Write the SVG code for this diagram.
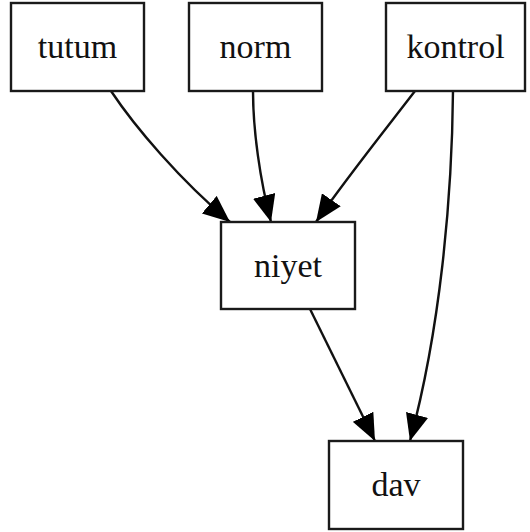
<svg xmlns="http://www.w3.org/2000/svg" width="530" height="532" viewBox="0 0 530 532">
<style>
.box{fill:#fff;stroke:#1a1a1a;stroke-width:2.4}
.lbl{font-family:"Liberation Serif","Times New Roman",serif;font-size:34px;fill:#111;text-anchor:middle}
.edge{fill:none;stroke:#111;stroke-width:2.4}
</style>
<defs>
<marker id="ah" markerUnits="userSpaceOnUse" markerWidth="27" markerHeight="23" viewBox="0 0 26 22" refX="26" refY="11" orient="auto">
<path d="M0,0 L26,11 L0,22 z" fill="#000"/>
</marker>
</defs>
<rect width="530" height="532" fill="#fff"/>
<g id="connectors">
<path class="edge" d="M111,91 C135,127 180,180 230,222" marker-end="url(#ah)"/>
<path class="edge" d="M253,91 C253,130 260,180 271,222" marker-end="url(#ah)"/>
<path class="edge" d="M415,91 C385,130 345,180 316,222" marker-end="url(#ah)"/>
<path class="edge" d="M453,91 C452,200 440,330 410,441" marker-end="url(#ah)"/>
<path class="edge" d="M310,309 L375,441" marker-end="url(#ah)"/>
</g>
<g id="tutum"><rect class="box" x="11" y="3" width="133" height="88"/><text class="lbl" x="77.5" y="58">tutum</text></g>
<g id="norm"><rect class="box" x="189" y="3" width="133" height="88"/><text class="lbl" x="255.5" y="58">norm</text></g>
<g id="kontrol"><rect class="box" x="386" y="3" width="139" height="88"/><text class="lbl" x="455.5" y="58">kontrol</text></g>
<g id="niyet"><rect class="box" x="221" y="222" width="134" height="87"/><text class="lbl" x="288" y="277">niyet</text></g>
<g id="dav"><rect class="box" x="329" y="441" width="134" height="88"/><text class="lbl" x="396" y="496">dav</text></g>
</svg>
